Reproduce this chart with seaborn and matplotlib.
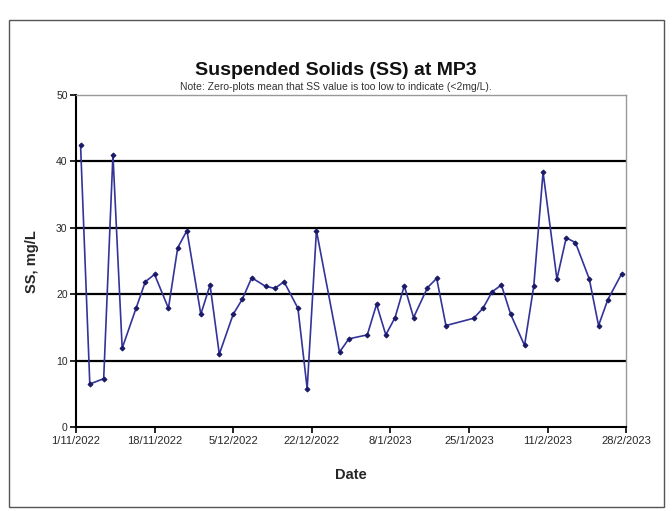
import pandas as pd
import matplotlib
matplotlib.use("Agg")
import matplotlib.pyplot as plt
from matplotlib.patches import Rectangle
import seaborn as sns

sns.set_style("white")
plt.rcParams['font.family'] = ['Liberation Sans', 'DejaVu Sans']

# sample dates (day/month/year) and SS readings, mg/L
dates = ['2/11/2022', '4/11/2022', '7/11/2022', '9/11/2022', '11/11/2022', '14/11/2022',
         '16/11/2022', '18/11/2022', '21/11/2022', '23/11/2022', '25/11/2022', '28/11/2022',
         '30/11/2022', '2/12/2022', '5/12/2022', '7/12/2022', '9/12/2022', '12/12/2022',
         '14/12/2022', '16/12/2022', '19/12/2022', '21/12/2022', '23/12/2022', '28/12/2022',
         '30/12/2022', '3/1/2023', '5/1/2023', '7/1/2023', '9/1/2023', '11/1/2023',
         '13/1/2023', '16/1/2023', '18/1/2023', '20/1/2023', '26/1/2023', '28/1/2023',
         '30/1/2023', '1/2/2023', '3/2/2023', '6/2/2023', '8/2/2023', '10/2/2023',
         '13/2/2023', '15/2/2023', '17/2/2023', '20/2/2023', '22/2/2023', '24/2/2023',
         '27/2/2023']
ss_values = [42.5, 6.5, 7.3, 41.0, 11.9, 17.9, 21.9, 23.0, 17.9, 27.0, 29.6, 17.0,
             21.4, 11.0, 17.0, 19.3, 22.5, 21.2, 20.9, 21.9, 17.9, 5.8, 29.6, 11.3,
             13.3, 13.9, 18.5, 13.9, 16.5, 21.3, 16.5, 21.0, 22.4, 15.3, 16.4, 17.9,
             20.4, 21.4, 17.0, 12.3, 21.3, 38.4, 22.3, 28.5, 27.8, 22.3, 15.3, 19.2,
             23.1]
tick_dates = ['1/11/2022', '18/11/2022', '5/12/2022', '22/12/2022',
              '8/1/2023', '25/1/2023', '11/2/2023', '28/2/2023']
y_ticks = [0, 10, 20, 30, 40, 50]

df = pd.DataFrame({'Date': pd.to_datetime(dates, dayfirst=True), 'SS': ss_values})
ticks = pd.to_datetime(tick_dates, dayfirst=True)

fig = plt.figure(figsize=(6.72, 5.11), dpi=100)
ax = fig.add_axes([0.113, 0.164, 0.819, 0.650])

# outer chart frame
fig.patches.append(Rectangle((0.014, 0.008), 0.974, 0.953, transform=fig.transFigure,
                             fill=False, edgecolor='#555555', linewidth=1.0))

for y in y_ticks[1:-1]:
    ax.axhline(y, color='black', linewidth=1.6, zorder=1)

sns.lineplot(data=df, x='Date', y='SS', ax=ax, color='#33339a', linewidth=1.2,
             marker='D', markersize=2.5, markerfacecolor='#1a1a66',
             markeredgecolor='#1a1a66', zorder=3)

ax.set_xlim(ticks[0], ticks[-1])
ax.set_ylim(0, 50)
ax.set_yticks(y_ticks)
ax.set_xticks(ticks)
ax.set_xticklabels(tick_dates, fontsize=8)
ax.tick_params(axis='y', labelsize=7.5)
ax.tick_params(axis='both', direction='out', length=4, width=1.2, color='black',
               left=True, bottom=True, pad=2)

for side in ['top', 'right']:
    ax.spines[side].set_color('#999999')
    ax.spines[side].set_linewidth(1.0)
for side in ['left', 'bottom']:
    ax.spines[side].set_color('black')
    ax.spines[side].set_linewidth(1.5)

ax.set_xlabel('Date', fontsize=10.5, fontweight='bold', labelpad=16)
ax.set_ylabel('SS, mg/L', fontsize=10.5, fontweight='bold', labelpad=12)

fig.text(0.5, 0.862, 'Suspended Solids (SS) at MP3', ha='center', va='center',
         fontsize=14, fontweight='bold', color='#111111')
fig.text(0.5, 0.830, 'Note: Zero-plots mean that SS value is too low to indicate (<2mg/L).',
         ha='center', va='center', fontsize=7.5, color='#333333')

fig.savefig('out.png', dpi=100)
